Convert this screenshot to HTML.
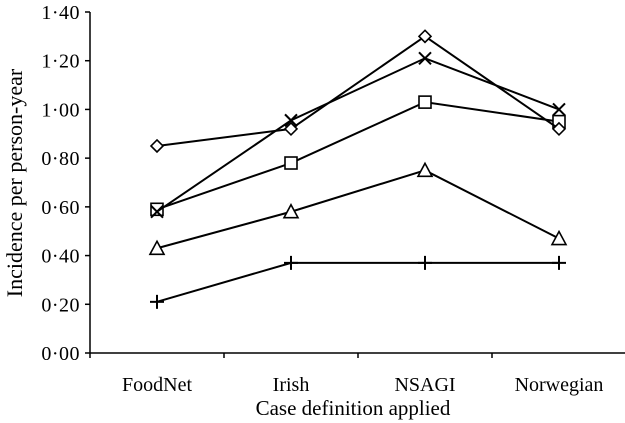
<!DOCTYPE html>
<html><head><meta charset="utf-8"><style>
body{margin:0;background:#fff;}
svg{display:block;font-family:"Liberation Serif",serif;}
</style></head><body>
<svg id="c" width="625" height="423"></svg>
<script>
const categories=["FoodNet","Irish","NSAGI","Norwegian"];
const diamondVals=[0.85,0.92,1.30,0.92];
const crossVals=[0.58,0.955,1.21,1.00];
const squareVals=[0.59,0.78,1.03,0.95];
const triangleVals=[0.43,0.58,0.75,0.47];
const plusVals=[0.21,0.37,0.37,0.37];
const yTicks=[0,0.2,0.4,0.6,0.8,1.0,1.2,1.4];
const yLabels=["0·00","0·20","0·40","0·60","0·80","1·00","1·20","1·40"];

const svg=document.getElementById('c');
const NS='http://www.w3.org/2000/svg';
const x0=90,y0=353,yTop=12,step=134;
const X=i=>x0+step*(i+0.5);
const Y=v=>y0-(y0-yTop)*v/1.4;
function mk(t,a,p){const e=document.createElementNS(NS,t);for(const k in a)e.setAttribute(k,a[k]);(p||svg).appendChild(e);return e;}
let e;
e=mk('line',{x1:x0,y1:yTop,x2:x0,y2:y0,stroke:'#000','stroke-width':1.5});


e=mk('line',{x1:x0,y1:y0,x2:625,y2:y0,stroke:'#000','stroke-width':1.5});


yTicks.forEach((v,i)=>{
  mk('line',{x1:x0-5,y1:Y(v),x2:x0,y2:Y(v),stroke:'#000','stroke-width':1.5});
  const t=mk('text',{x:x0-10,y:Y(v)+7,'text-anchor':'end','font-size':20,'letter-spacing':0.5});
  t.textContent=yLabels[i];
  
  
});
for(let i=0;i<=categories.length;i++){mk('line',{x1:x0+step*i,y1:y0,x2:x0+step*i,y2:y0+5,stroke:'#000','stroke-width':1.5});}
categories.forEach((c,i)=>{
  const t=mk('text',{x:X(i),y:391,'text-anchor':'middle','font-size':20});
  t.textContent=c;
  
  
});
e=mk('text',{x:353,y:415,'text-anchor':'middle','font-size':21});
e.textContent='Case definition applied';


e=mk('text',{x:0,y:0,'text-anchor':'middle','font-size':22,transform:'translate(22,183) rotate(-90)'});
e.textContent='Incidence per person-year';



function marker(type,cx,cy,g){
  const s={stroke:'#000','stroke-width':1.6,fill:'#fff'};
  if(type==='diamond')mk('polygon',Object.assign({points:`${cx},${cy-6} ${cx+6},${cy} ${cx},${cy+6} ${cx-6},${cy}`},s),g);
  if(type==='square')mk('rect',Object.assign({x:cx-6,y:cy-6,width:12,height:12},s),g);
  if(type==='triangle')mk('polygon',Object.assign({points:`${cx},${cy-7} ${cx+7},${cy+6} ${cx-7},${cy+6}`},s),g);
  if(type==='cross'){mk('line',{x1:cx-6,y1:cy-6,x2:cx+6,y2:cy+6,stroke:'#000','stroke-width':2},g);mk('line',{x1:cx-6,y1:cy+6,x2:cx+6,y2:cy-6,stroke:'#000','stroke-width':2},g);}
  if(type==='plus'){mk('line',{x1:cx-7,y1:cy,x2:cx+7,y2:cy,stroke:'#000','stroke-width':2},g);mk('line',{x1:cx,y1:cy-7,x2:cx,y2:cy+7,stroke:'#000','stroke-width':2},g);}
}
[['plus',plusVals],['triangle',triangleVals],['square',squareVals],['cross',crossVals],['diamond',diamondVals]].forEach(([type,vals])=>{
  const g=mk('g',{});
  
  
  mk('polyline',{points:vals.map((v,i)=>X(i)+','+Y(v)).join(' '),fill:'none',stroke:'#000','stroke-width':2},g);
  vals.forEach((v,i)=>marker(type,X(i),Y(v),g));
});
</script>
</body></html>
